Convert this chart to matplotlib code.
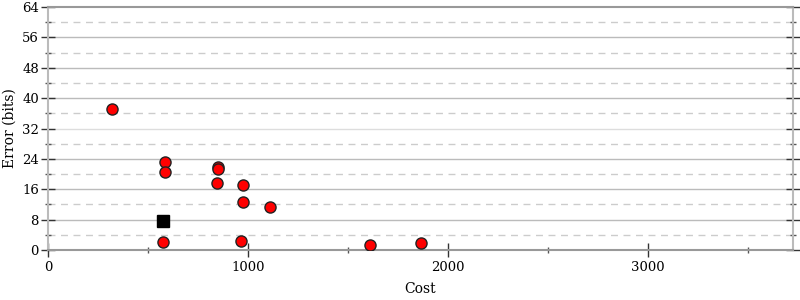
import matplotlib
matplotlib.use("Agg")
import matplotlib.pyplot as plt
from matplotlib.ticker import MultipleLocator

plt.rcParams['font.family'] = ['DejaVu Serif']

cost = [320, 585, 585, 850, 850, 845, 975, 975, 1110, 575, 965, 1610, 1865]
error = [37.1, 23.2, 20.5, 21.9, 21.3, 17.6, 17.1, 12.6, 11.3, 2.1, 2.4, 1.3, 1.8]
sq_cost = [575]
sq_error = [7.6]

fig = plt.figure(figsize=(8, 3), dpi=100)
ax = fig.add_axes([48/800, 50/300, (793-48)/800, (250-7)/300])
ax.set_xlim(0, 3725)
ax.set_ylim(0, 64)

for v in range(8, 64, 8):
    col = '#dddddd' if v == 32 else '#bbbbbb'
    ax.axhline(v, color=col, lw=1.0, zorder=0)
for v in range(4, 64, 8):
    ax.axhline(v, color='#cccccc', lw=1.0, ls=(0, (5, 4)), zorder=0)

ax.plot(cost, error, 'o', ms=8, mfc='#ff0000', mec='#222222', mew=1.0, ls='none', zorder=3)
ax.plot(sq_cost, sq_error, 's', ms=8.5, mfc='black', mec='black', ls='none', zorder=3)

ax.xaxis.set_major_locator(MultipleLocator(1000))
ax.xaxis.set_minor_locator(MultipleLocator(500))
ax.yaxis.set_major_locator(MultipleLocator(8))
ax.yaxis.set_minor_locator(MultipleLocator(4))

for s in ['left', 'right', 'bottom', 'top']:
    ax.spines[s].set_color('#999999')
    ax.spines[s].set_linewidth(1.5)
ax.spines['left'].set_color('#bbbbbb')
ax.spines['right'].set_color('#bbbbbb')

ax.tick_params(axis='y', which='major', direction='inout', length=10, width=1, color='#333333', labelsize=9.5, left=True, right=True, pad=1.5)
ax.tick_params(axis='y', which='minor', direction='inout', length=5, width=1, color='#555555', left=True, right=True)
ax.tick_params(axis='x', which='major', direction='inout', length=10, width=1, color='#333333', labelsize=9.5, pad=3)
ax.tick_params(axis='x', which='minor', direction='inout', length=5, width=1, color='#555555')

ax.set_xlabel('Cost', fontsize=10, labelpad=6)
ax.set_ylabel('Error (bits)', fontsize=10, labelpad=4)

fig.savefig('out.png', dpi=100)
